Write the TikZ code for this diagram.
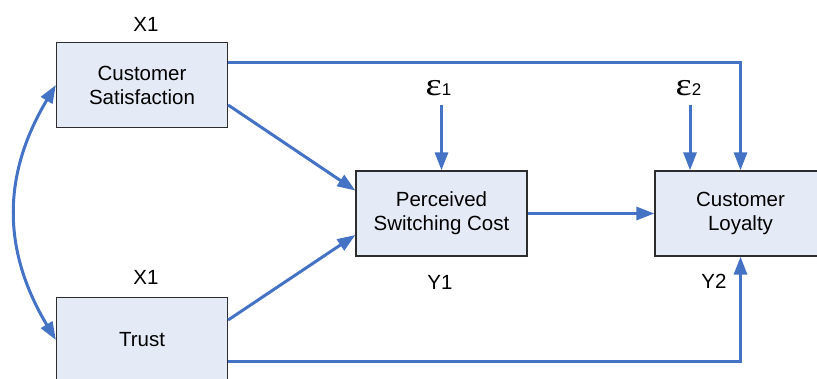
\documentclass[tikz,border=0pt]{standalone}
\usepackage{fontspec}
\setmainfont{Liberation Sans}
\newfontfamily\grk{Liberation Serif}
\usetikzlibrary{arrows.meta}
\definecolor{linkblue}{RGB}{68,114,196}
\definecolor{boxfill}{RGB}{229,235,246}
\definecolor{boxline}{RGB}{45,45,45}
\tikzset{
  varbox/.style={draw=boxline, line width=1.3pt, fill=boxfill, minimum width=171pt,
    minimum height=85pt, align=center, inner sep=0pt, font=\fontsize{20.5}{24}\selectfont},
  tag/.style={inner sep=0pt, font=\fontsize{20.5}{24}\selectfont},
  errtag/.style={inner sep=0pt},
  arr/.style={draw=linkblue, line width=3pt, -{Triangle[length=18pt,width=13pt]}},
  biarr/.style={draw=linkblue, line width=3pt, {Triangle[length=18pt,width=13pt]}-{Triangle[length=18pt,width=13pt]}},
}
% error term: a wide epsilon followed by a small index
\newcommand{\errsym}[1]{{\grk\fontsize{32}{32}\selectfont\scalebox{1.2}[1]{ε}}{\fontsize{17}{17}\selectfont #1}}
\begin{document}
\begin{tikzpicture}[x=1pt,y=-1pt]
  \useasboundingbox (0,0) rectangle (817,379);
  \clip (0,0) rectangle (817,379);
  % variables
  \node[varbox] (cs) at (142,85) {Customer\\Satisfaction};
  \node[varbox] (trust) at (142,340) {Trust};
  \node[varbox] (psc) at (441.5,213.5) {Perceived\\Switching Cost};
  \node[varbox] (cl) at (740.5,213.5) {Customer\\Loyalty};
  % labels
  \node[tag] (x1a) at (146,24) {X1};
  \node[tag] (x1b) at (146,277) {X1};
  \node[tag] (y1) at (440,282) {Y1};
  \node[tag] (y2) at (714,281) {Y2};
  \node[errtag, anchor=base] (e1) at (438.5,95.5) {\errsym{1}};
  \node[errtag, anchor=base] (e2) at (688.5,96) {\errsym{2}};
  \coordinate (e1tail) at (441.5,105);
  \coordinate (e2tail) at (690,105);
  % paths
  \draw[arr] ([yshift=22pt]cs.east) -| (cl.north);
  \draw[arr] ([yshift=-20pt]cs.east) -- ([yshift=23pt]psc.west);
  \draw[arr] ([yshift=20pt]trust.east) -- ([yshift=-21.5pt]psc.west);
  \draw[arr] (psc.east) -- (cl.west);
  \draw[arr] ([yshift=-22pt]trust.east) -| (cl.south);
  \draw[arr] (e1tail) -- (psc.north);
  \draw[arr] (e2tail) -- (e2tail |- cl.north);
  \draw[biarr] (cs.west) .. controls (2,175) and (2,250) .. (trust.west);
\end{tikzpicture}
\end{document}
